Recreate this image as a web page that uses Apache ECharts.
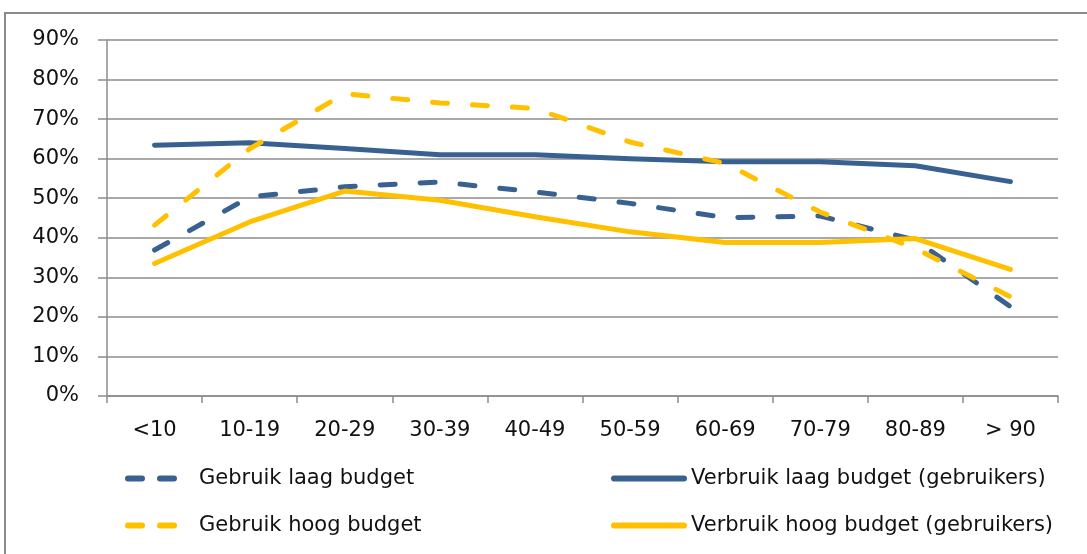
<!DOCTYPE html>
<html>
<head>
<meta charset="utf-8">
<script src="https://cdn.jsdelivr.net/npm/echarts@6/dist/echarts.min.js"></script>
<style>
  html, body { margin: 0; padding: 0; background: #fff; }
  #chart { width: 1087px; height: 554px; }
</style>
</head>
<body>
<div id="chart"></div>
<script>
// leeftijdsklassen
const categories = ['<10', '10-19', '20-29', '30-39', '40-49', '50-59', '60-69', '70-79', '80-89', '> 90'];
// waarden in %
const gebruikLaag = [36.9, 50.3, 52.9, 54.1, 51.6, 48.7, 45.1, 45.5, 39.4, 22.6];
const verbruikLaag = [63.4, 64.0, 62.6, 61.0, 61.0, 60.0, 59.2, 59.2, 58.2, 54.2];
const gebruikHoog = [43.2, 62.5, 76.4, 74.1, 72.7, 64.2, 58.8, 46.5, 37.3, 25.1];
const verbruikHoog = [33.5, 44.0, 51.8, 49.5, 45.3, 41.5, 38.8, 38.8, 39.8, 32.0];
const yTicks = [0, 10, 20, 30, 40, 50, 60, 70, 80, 90];

const BLUE = '#386192';
const YELLOW = '#FFC000';
const GRID = '#8c8c8c';
const FONT = 'DejaVu Sans';
const DASH = [15, 25];

function lineSeries(name, data, color, dashed) {
  return {
    name: name,
    type: 'line',
    data: data,
    symbol: 'none',
    lineStyle: {
      color: color,
      width: 5,
      type: dashed ? DASH : 'solid',
      cap: 'round',
      join: 'round'
    },
    itemStyle: { color: color }
  };
}

// legenda-item: alleen een dikke lijn, geen symbool
function legendItem(name, color, dashed) {
  return {
    name: name,
    itemStyle: { opacity: 0 },
    lineStyle: { color: color, width: 6, type: dashed ? [14, 18] : 'solid', cap: 'round' }
  };
}

const legendText = { fontFamily: FONT, fontSize: 21, color: '#111', padding: [0, 0, 0, 4] };

const option = {
  animation: false,
  backgroundColor: '#fff',
  grid: { left: 107, right: 29, top: 40, bottom: 158 },
  xAxis: {
    type: 'category',
    data: categories,
    boundaryGap: true,
    axisLine: { lineStyle: { color: GRID, width: 1.5 } },
    axisTick: { show: true, length: 7, alignWithLabel: false, lineStyle: { color: GRID, width: 1.5 } },
    axisLabel: { color: '#111', fontFamily: FONT, fontSize: 21, margin: 24 }
  },
  yAxis: {
    type: 'value',
    min: 0,
    max: 90,
    interval: 10,
    axisLine: { show: true, lineStyle: { color: GRID, width: 1.5 } },
    axisTick: { show: true, length: 9, lineStyle: { color: GRID, width: 1.5 } },
    splitLine: { lineStyle: { color: GRID, width: 1.5 } },
    axisLabel: {
      color: '#111', fontFamily: FONT, fontSize: 21, margin: 28,
      formatter: v => (yTicks.indexOf(v) >= 0 ? v + '%' : '')
    }
  },
  legend: [
    {
      orient: 'vertical', left: 120, top: 463, itemWidth: 62, itemHeight: 8, itemGap: 26,
      textStyle: legendText,
      data: [legendItem('Gebruik laag budget', BLUE, true), legendItem('Gebruik hoog budget', YELLOW, true)]
    },
    {
      orient: 'vertical', left: 606, top: 463, itemWidth: 70, itemHeight: 8, itemGap: 26,
      textStyle: Object.assign({}, legendText, { padding: [0, 0, 0, 2] }),
      data: [legendItem('Verbruik laag budget (gebruikers)', BLUE, false), legendItem('Verbruik hoog budget (gebruikers)', YELLOW, false)]
    }
  ],
  graphic: [{
    type: 'rect',
    shape: { x: 5, y: 13, width: 1200, height: 700 },
    style: { fill: null, stroke: '#8a8a8a', lineWidth: 2 },
    silent: true
  }],
  series: [
    lineSeries('Gebruik laag budget', gebruikLaag, BLUE, true),
    lineSeries('Verbruik laag budget (gebruikers)', verbruikLaag, BLUE, false),
    lineSeries('Gebruik hoog budget', gebruikHoog, YELLOW, true),
    lineSeries('Verbruik hoog budget (gebruikers)', verbruikHoog, YELLOW, false)
  ]
};

const myChart = echarts.init(document.getElementById('chart'));
myChart.setOption(option);
</script>
</body>
</html>
